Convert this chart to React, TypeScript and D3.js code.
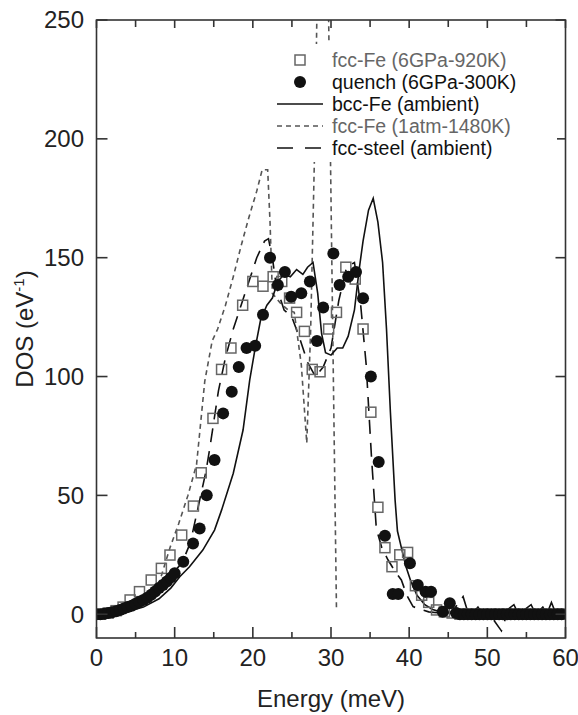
import React, { useEffect, useRef } from "react";
import * as d3 from "d3";

// fcc-Fe (6GPa-920K), open squares
const sqE = [0.5, 1.5, 2.5, 3.4, 4.3, 5.5, 7.0, 8.3, 9.4, 10.9, 12.4, 13.4, 14.9, 16.0, 17.2, 18.7, 20.0, 21.3, 22.6, 23.7, 24.7, 25.6, 26.6, 27.6, 28.6, 29.7, 30.7, 31.9, 33.1, 34.1, 35.1, 36.0, 36.9, 37.8, 38.8, 39.8, 40.8, 41.6, 42.5, 43.5, 44.5, 45.5, 46.5, 47.5, 48.5, 49.5, 50.5, 51.5, 52.5, 53.5, 54.5, 55.5, 56.5, 57.5, 58.5, 59.5, 60.0];
const sqDos = [0, 0.5, 1.5, 3, 6, 9.5, 14.4, 19.3, 24.9, 33.3, 45.5, 59.5, 82.4, 103, 112, 130, 140, 138, 142, 140, 133, 127, 119, 103, 102, 120, 127, 146, 141, 120, 85, 45, 28, 20, 25, 26, 12, 8, 5, 1.8, 1, 0.5, 0, 0, 0, 0, 0, 0, 0, 0, 0, 0, 0, 0, 0, 0, 0];

// quench (6GPa-300K), filled circles
const ciE = [0, 0.5, 1, 1.5, 2, 2.5, 3, 3.5, 4, 4.5, 5, 5.5, 6, 6.5, 7, 7.5, 8, 8.5, 9, 9.5, 10, 11.1, 12.35, 13.2, 14.1, 15.1, 16.2, 17.3, 18.2, 19.2, 20.3, 21.3, 22.2, 23.2, 24.1, 24.9, 26.2, 27.3, 28.2, 29.0, 30.3, 31.1, 32.2, 33.2, 34.1, 35.1, 36.1, 36.9, 37.9, 38.6, 40.1, 41.1, 42.1, 42.8, 44.3, 45.2, 46.0, 46.5, 47, 47.5, 48, 48.5, 49, 49.5, 50, 50.5, 51, 51.5, 52, 52.5, 53, 53.5, 54, 54.5, 55, 55.5, 56, 56.5, 57, 57.5, 58, 58.5, 59, 59.5];
const ciDos = [0, 0, 0.2, 0.5, 0.8, 1.3, 1.8, 2.4, 3.0, 3.6, 4.4, 5.2, 6.0, 6.9, 8.2, 9.6, 11, 12.3, 13.8, 15.4, 17.2, 22.1, 29.8, 36.1, 50.1, 64.9, 84.5, 93.6, 104, 112, 113, 126, 150, 138.5, 144, 133.6, 135, 140, 115, 129, 151.8, 138.5, 142, 144, 132.9, 100, 64, 33, 8.5, 8.5, 21.4, 12.3, 9.5, 9.5, 1, 4.6, 0.5, 0, 0, 0, 0, 0, 0, 0, 0, 0, 0, 0, 0, 0, 0, 0, 0, 0, 0, 0, 0, 0, 0, 0, 0, 0, 0, 0];

// bcc-Fe (ambient), solid line
const bccE = [0, 2, 4, 6, 8, 9.5, 10.65, 11.9, 13.6, 15.1, 16.0, 17.5, 18.75, 19.6, 20.3, 21.0, 21.8, 22.5, 23.2, 24.0, 24.8, 25.6, 26.4, 27.0, 27.7, 28.3, 28.8, 29.3, 30.0, 30.8, 31.5, 32.2, 33.0, 33.6, 34.1, 34.8, 35.4, 36.0, 36.6, 37.1, 37.6, 38.2, 38.5, 39.0, 39.6, 40.2, 41, 42, 43, 44, 45, 46, 48, 48.8, 49.4, 52, 53.4, 54.0, 55.6, 56.2, 57.1, 57.6, 58.2, 58.8, 60];
const bccDos = [0, 0.3, 1.2, 3, 6.5, 11, 15.8, 20, 27, 35.4, 43.8, 59.3, 77.5, 98.5, 112, 124, 130, 133, 140, 143, 142, 145, 143, 146, 148, 135, 118, 110, 109, 112, 112, 117, 128, 145, 157, 170, 175, 165, 148, 120, 85, 48, 35, 28, 20, 14, 8, 4, 2, 1, 0.5, 0, 0, 3, 0, 0.5, 4, 0, 4, 0, 3, 0, 5, 0, 0];

// fcc-Fe (1atm-1480K), short dashes
const fccHotE = [0, 2, 4, 6, 8, 9.4, 10.5, 11.7, 12.8, 13.85, 14.8, 15.5, 16.5, 17.5, 18.5, 19.5, 20.5, 21.2, 21.9, 22.2, 22.5, 23.5, 24.5, 25.3, 26.2, 26.9, 27.4, 28.0, 28.3, 29.6, 29.9, 30.3, 30.7];
const fccHotDos = [0, 0.5, 2, 5, 13, 28, 38, 50, 63, 98, 115, 120, 130, 142, 155, 167, 178, 187, 187, 165, 135, 131, 128, 127, 105, 72, 120, 210, 275, 275, 200, 100, 2];

// fcc-steel (ambient), long dashes
const steelE = [0, 3, 5, 7, 9, 10, 11, 12, 13, 14, 14.5, 15.6, 16.5, 17.5, 18.5, 19.5, 20.5, 21.5, 22, 22.5, 23, 24, 25, 26, 27, 28, 29, 30, 31, 32, 33, 33.8, 34.5, 35.2, 35.8, 36.5, 37.3, 38.2, 39, 39.7, 40.5, 41.5, 42.5, 44, 45.5, 46.9, 47.5, 49, 50.5, 51.8, 52.4, 54, 56, 58, 60];
const steelDos = [0, 1, 3, 6.5, 12, 18, 22, 30, 45, 60, 70, 94, 108, 120, 130, 140, 150, 157, 158, 150, 138, 128, 125, 116, 106, 100, 104, 112, 132, 146, 148, 130, 105, 65, 36, 28, 22.8, 18, 14.4, 8, 3.2, 2, 1, 0.5, 1, 7.4, 1, 0, -1, -7, -1, 0, 1, 0, -2];

const xTicks = [0, 10, 20, 30, 40, 50, 60];
const yTicks = [0, 50, 100, 150, 200, 250];

const legendLabels = [
  "fcc-Fe (6GPa-920K)",
  "quench (6GPa-300K)",
  "bcc-Fe (ambient)",
  "fcc-Fe (1atm-1480K)",
  "fcc-steel (ambient)",
];

const W = 578;
const H = 715;
const FONT = "'Liberation Sans', Arial, Helvetica, sans-serif";

const App = () => {
  const svgRef = useRef<SVGSVGElement>(null);

  useEffect(() => {
    const svg = d3.select(svgRef.current);
    svg.selectAll("*").remove();

    const left = 96.5;
    const right = 565.5;
    const top = 20;
    const bottom = 638;

    const x = d3.scaleLinear().domain([0, 60]).range([left, right]);
    const y = d3.scaleLinear().domain([-10, 250]).range([bottom, top]);

    svg
      .append("defs")
      .append("clipPath")
      .attr("id", "plotclip")
      .append("rect")
      .attr("x", left)
      .attr("y", top)
      .attr("width", right - left)
      .attr("height", bottom - top);

    const plot = svg.append("g").attr("clip-path", "url(#plotclip)");

    const line = d3
      .line<[number, number]>()
      .x((d) => x(d[0]))
      .y((d) => y(d[1]));

    const pairs = (xs: number[], ys: number[]) =>
      xs.map((v, i) => [v, ys[i]] as [number, number]);

    plot
      .append("path")
      .attr("d", line(pairs(steelE, steelDos)))
      .attr("fill", "none")
      .attr("stroke", "#111")
      .attr("stroke-width", 1.6)
      .attr("stroke-dasharray", "14,9");

    plot
      .append("path")
      .attr("d", line(pairs(fccHotE, fccHotDos)))
      .attr("fill", "none")
      .attr("stroke", "#555")
      .attr("stroke-width", 1.6)
      .attr("stroke-dasharray", "5,4");

    plot
      .append("path")
      .attr("d", line(pairs(bccE, bccDos)))
      .attr("fill", "none")
      .attr("stroke", "#111")
      .attr("stroke-width", 1.6);

    const sq = 10;
    plot
      .selectAll(".sq")
      .data(pairs(sqE, sqDos))
      .join("rect")
      .attr("x", (d) => x(d[0]) - sq / 2)
      .attr("y", (d) => y(d[1]) - sq / 2)
      .attr("width", sq)
      .attr("height", sq)
      .attr("fill", "none")
      .attr("stroke", "#666")
      .attr("stroke-width", 1.5);

    plot
      .selectAll(".ci")
      .data(pairs(ciE, ciDos))
      .join("circle")
      .attr("cx", (d) => x(d[0]))
      .attr("cy", (d) => y(d[1]))
      .attr("r", 6)
      .attr("fill", "#111");

    // frame
    svg
      .append("rect")
      .attr("x", left)
      .attr("y", top)
      .attr("width", right - left)
      .attr("height", bottom - top)
      .attr("fill", "none")
      .attr("stroke", "#333")
      .attr("stroke-width", 1.6);

    const minorX = d3.range(5, 60, 10);
    const axisG = svg.append("g").attr("stroke", "#333").attr("stroke-width", 1.6);
    xTicks.forEach((t) => {
      axisG.append("line").attr("x1", x(t)).attr("x2", x(t)).attr("y1", bottom).attr("y2", bottom - 11);
      axisG.append("line").attr("x1", x(t)).attr("x2", x(t)).attr("y1", top).attr("y2", top + 8);
    });
    minorX.forEach((t) => {
      axisG.append("line").attr("x1", x(t)).attr("x2", x(t)).attr("y1", bottom).attr("y2", bottom - 6);
      axisG.append("line").attr("x1", x(t)).attr("x2", x(t)).attr("y1", top).attr("y2", top + 7);
    });
    yTicks.forEach((t) => {
      axisG.append("line").attr("x1", left).attr("x2", left + 11).attr("y1", y(t)).attr("y2", y(t));
      axisG.append("line").attr("x1", right).attr("x2", right - 10).attr("y1", y(t)).attr("y2", y(t));
    });

    svg
      .append("g")
      .selectAll("text")
      .data(xTicks)
      .join("text")
      .attr("x", (d) => x(d))
      .attr("y", 666)
      .attr("text-anchor", "middle")
      .attr("font-family", FONT)
      .attr("font-size", 24)
      .attr("fill", "#222")
      .text((d) => d);

    svg
      .append("g")
      .selectAll("text")
      .data(yTicks)
      .join("text")
      .attr("x", 84)
      .attr("y", (d) => y(d))
      .attr("dy", "0.35em")
      .attr("text-anchor", "end")
      .attr("font-family", FONT)
      .attr("font-size", 24)
      .attr("fill", "#222")
      .text((d) => d);

    svg
      .append("text")
      .attr("x", (left + right) / 2)
      .attr("y", 707)
      .attr("text-anchor", "middle")
      .attr("font-family", FONT)
      .attr("font-size", 24)
      .attr("fill", "#222")
      .text("Energy (meV)");

    const yl = svg
      .append("text")
      .attr("transform", `translate(33,${(top + bottom) / 2}) rotate(-90)`)
      .attr("text-anchor", "middle")
      .attr("font-family", FONT)
      .attr("font-size", 24)
      .attr("fill", "#222");
    yl.append("tspan").text("DOS (eV");
    yl.append("tspan").attr("dy", -9).attr("font-size", 15).text("-1");
    yl.append("tspan").attr("dy", 9).text(")");

    // legend (white box hides the clipped lines behind it)
    const lx0 = 277;
    const lx1 = 323;
    const tx = 332;
    const ly = [60, 82, 104, 126, 148];
    const leg = svg.append("g");
    leg
      .append("rect")
      .attr("x", 272)
      .attr("y", 44)
      .attr("width", 285)
      .attr("height", 118)
      .attr("fill", "#fff");
    leg
      .append("rect")
      .attr("x", 300 - sq / 2)
      .attr("y", ly[0] - sq / 2)
      .attr("width", sq)
      .attr("height", sq)
      .attr("fill", "none")
      .attr("stroke", "#666")
      .attr("stroke-width", 1.5);
    leg.append("circle").attr("cx", 300).attr("cy", ly[1]).attr("r", 6).attr("fill", "#111");
    leg
      .append("line")
      .attr("x1", lx0)
      .attr("x2", lx1)
      .attr("y1", ly[2])
      .attr("y2", ly[2])
      .attr("stroke", "#111")
      .attr("stroke-width", 1.6);
    leg
      .append("line")
      .attr("x1", lx0)
      .attr("x2", lx1)
      .attr("y1", ly[3])
      .attr("y2", ly[3])
      .attr("stroke", "#555")
      .attr("stroke-width", 1.6)
      .attr("stroke-dasharray", "5,4");
    leg
      .append("line")
      .attr("x1", lx0)
      .attr("x2", lx1)
      .attr("y1", ly[4])
      .attr("y2", ly[4])
      .attr("stroke", "#111")
      .attr("stroke-width", 1.6)
      .attr("stroke-dasharray", "16,12");

    const legColors = ["#666", "#111", "#111", "#666", "#111"];
    leg
      .selectAll("text")
      .data(legendLabels)
      .join("text")
      .attr("x", tx)
      .attr("y", (_d, i) => ly[i])
      .attr("dy", "0.35em")
      .attr("font-family", FONT)
      .attr("font-size", 19.5)
      .attr("fill", (_d, i) => legColors[i])
      .text((d) => d);
  }, []);

  return (
    <svg
      ref={svgRef}
      width={W}
      height={H}
      style={{ position: "absolute", left: 0, top: 0, background: "#fff" }}
    ></svg>
  );
};

export default App;
